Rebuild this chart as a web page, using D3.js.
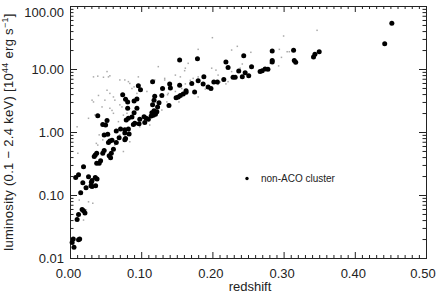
<!DOCTYPE html>
<html>
<head>
<meta charset="utf-8">
<script src="https://cdn.jsdelivr.net/npm/d3@7"></script>
<style>
  body { margin: 0; background: #fff; }
  text { font-family: "Liberation Sans", Arial, sans-serif; fill: #222; }
</style>
</head>
<body>
<svg id="chart" width="439" height="294"></svg>
<script>

// non-ACO clusters (black dots): redshift, luminosity [1e44 erg/s]
var clusterZ = [
    0.452, 0.442, 0.350, 0.344, 0.342, 0.314, 0.315, 0.317, 0.284, 0.284, 0.284,
    0.244, 0.219, 0.222, 0.255, 0.237, 0.246, 0.242, 0.251, 0.229, 0.232, 0.216,
    0.267, 0.270, 0.274, 0.278, 0.188, 0.187, 0.180, 0.194, 0.198, 0.202, 0.207,
    0.154, 0.179, 0.171, 0.154, 0.140, 0.141, 0.163, 0.163, 0.175, 0.159, 0.155,
    0.152, 0.149, 0.139, 0.116, 0.096, 0.099, 0.130, 0.074, 0.129, 0.078, 0.081,
    0.090, 0.094, 0.119, 0.118, 0.125, 0.123, 0.116, 0.081, 0.094, 0.090, 0.118,
    0.122, 0.115, 0.120, 0.117, 0.104, 0.107, 0.110, 0.114, 0.098, 0.087, 0.082,
    0.079, 0.091, 0.089, 0.097, 0.105, 0.052, 0.046, 0.050, 0.039, 0.082, 0.077,
    0.071, 0.065, 0.083, 0.077, 0.053, 0.048, 0.078, 0.077, 0.069, 0.059, 0.056,
    0.054, 0.061, 0.048, 0.046, 0.055, 0.057, 0.065, 0.0375, 0.0355, 0.034, 0.058,
    0.043, 0.041, 0.0375, 0.019, 0.012, 0.008, 0.026, 0.0355, 0.038, 0.031, 0.030,
    0.018, 0.0225, 0.0295, 0.031, 0.036, 0.015, 0.017, 0.019, 0.021, 0.012, 0.010,
    0.0046, 0.0136, 0.012, 0.003, 0.0056
];
var clusterL = [
    53, 25.2, 18.8, 17.1, 15.5, 19.8, 13.7, 12.8, 19.3, 13.6, 12.9,
    16.3, 12.9, 10.6, 10.9, 9.3, 8.7, 7.5, 7.8, 7.4, 7.4, 6.8,
    9.1, 9.4, 10.0, 9.9, 7.5, 5.8, 6.5, 5.2, 4.9, 6.2, 6.2,
    13.9, 14.6, 5.9, 5.5, 5.8, 5.0, 4.5, 4.27, 4.3, 4.0, 3.8,
    3.6, 3.5, 2.64, 6.3, 5.4, 4.7, 4.9, 3.9, 3.8, 3.3, 3.0,
    3.1, 3.35, 3.7, 3.2, 2.9, 2.5, 2.7, 2.38, 2.38, 2.02, 2.18,
    2.1, 2.02, 1.91, 1.85, 1.75, 1.65, 1.59, 1.79, 1.59, 1.73, 1.65,
    1.55, 1.38, 1.32, 1.35, 1.41, 1.52, 1.32, 1.29, 1.81, 1.12, 1.09,
    1.12, 1.04, 0.93, 0.96, 0.92, 0.90, 0.79, 0.75, 0.81, 0.74, 0.72,
    0.68, 0.53, 0.51, 0.46, 0.42, 0.39, 0.68, 0.46, 0.43, 0.41, 0.46,
    0.35, 0.32, 0.32, 0.28, 0.21, 0.19, 0.195, 0.19, 0.18, 0.17, 0.16,
    0.157, 0.13, 0.14, 0.137, 0.14, 0.109, 0.059, 0.056, 0.052, 0.049, 0.041,
    0.020, 0.020, 0.0195, 0.0177, 0.0148
];

// background sample (faint grey dots)
var sampleZ = [
    0.200, 0.180, 0.227, 0.235, 0.166, 0.162, 0.161, 0.148, 0.155, 0.133, 0.199,
    0.205, 0.208, 0.180, 0.173, 0.169, 0.162, 0.219, 0.222, 0.227, 0.157, 0.148,
    0.180, 0.153, 0.137, 0.300, 0.347, 0.254, 0.294, 0.305, 0.308, 0.297, 0.281,
    0.293, 0.242, 0.239, 0.215, 0.208, 0.211, 0.190, 0.192, 0.010, 0.026, 0.031,
    0.039, 0.052, 0.054, 0.049, 0.045, 0.056, 0.063, 0.059, 0.061, 0.073, 0.077,
    0.096, 0.090, 0.080, 0.119, 0.124, 0.133, 0.138, 0.033, 0.035, 0.056, 0.052,
    0.082, 0.087, 0.070, 0.056, 0.075, 0.068, 0.098, 0.112, 0.129, 0.136, 0.108,
    0.094, 0.070, 0.063, 0.084, 0.075, 0.013, 0.037, 0.039, 0.041, 0.046, 0.027,
    0.011, 0.060, 0.032, 0.023, 0.026, 0.019, 0.040, 0.045, 0.047, 0.040, 0.033,
    0.061, 0.070, 0.084
];
var sampleL = [
    31.4, 20.5, 20.0, 22.9, 12.3, 10.3, 9.4, 8.0, 7.5, 7.1, 10.3,
    9.6, 8.0, 7.5, 7.1, 6.6, 5.8, 5.8, 6.3, 9.1, 4.9, 4.4,
    3.6, 3.0, 3.9, 33.4, 41.1, 18.4, 20.5, 18.8, 18.8, 15.3, 12.3,
    11.2, 12.0, 10.3, 6.5, 5.7, 6.2, 4.8, 5.1, 1.21, 1.65, 3.2,
    7.7, 9.1, 7.5, 3.2, 2.5, 4.1, 3.2, 2.2, 1.98, 2.5, 6.7,
    7.5, 5.2, 1.98, 6.7, 10.9, 6.7, 4.1, 7.5, 1.86, 7.8, 4.6,
    6.3, 4.9, 2.7, 2.38, 1.85, 1.46, 1.21, 1.29, 2.23, 3.0, 4.4,
    4.1, 0.90, 0.62, 0.70, 0.49, 0.083, 0.66, 0.62, 0.90, 0.75, 0.135,
    0.46, 0.52, 0.074, 0.058, 0.078, 0.040, 0.32, 0.49, 7.4, 3.8, 3.0,
    3.6, 6.7, 5.9
];

var xTicks = [0, 0.1, 0.2, 0.3, 0.4, 0.5];
var xTickLabels = ['0.00', '0.10', '0.20', '0.30', '0.40', '0.50'];
var yTicks = [0.01, 0.1, 1, 10, 100];
var yTickLabels = ['0.01', '0.10', '1.00', '10.00', '100.00'];

var plotLeft = 70, plotRight = 426, plotTop = 6, plotBottom = 258;

var svg = d3.select('#chart');

var x = d3.scaleLinear().domain([0, 0.5]).range([plotLeft, plotRight]);
var y = d3.scaleLog().domain([0.01, 100]).range([plotBottom, plotTop]);

// minor ticks
var xMinor = d3.range(0, 0.5001, 0.01).filter(function (v) {
    return Math.abs(v * 10 - Math.round(v * 10)) > 1e-6;
});
var yMinor = [];
yTicks.slice(0, 4).forEach(function (d) {
    for (var k = 2; k <= 9; k++) yMinor.push(d * k);
});

function drawAxis(axis, tx, ty) {
    var g = svg.append('g')
        .attr('transform', 'translate(' + tx + ',' + ty + ')')
        .call(axis);
    g.select('.domain').remove();
    g.selectAll('line').attr('stroke', '#222').attr('stroke-width', 1);
    g.selectAll('text').remove();
}

// inward ticks on all four sides
drawAxis(d3.axisBottom(x).tickValues(xTicks).tickSize(-6), 0, plotBottom);
drawAxis(d3.axisBottom(x).tickValues(xMinor).tickSize(-3), 0, plotBottom);
drawAxis(d3.axisTop(x).tickValues(xTicks).tickSize(-6), 0, plotTop);
drawAxis(d3.axisTop(x).tickValues(xMinor).tickSize(-3), 0, plotTop);
drawAxis(d3.axisLeft(y).tickValues(yTicks).tickSize(-7), plotLeft, 0);
drawAxis(d3.axisLeft(y).tickValues(yMinor).tickSize(-3.5), plotLeft, 0);
drawAxis(d3.axisRight(y).tickValues(yTicks).tickSize(-7), plotRight, 0);
drawAxis(d3.axisRight(y).tickValues(yMinor).tickSize(-3.5), plotRight, 0);

svg.append('rect')
    .attr('x', plotLeft + 0.5)
    .attr('y', plotTop + 0.5)
    .attr('width', plotRight - plotLeft)
    .attr('height', plotBottom - plotTop)
    .attr('fill', 'none')
    .attr('stroke', '#222')
    .attr('stroke-width', 1);

// tick labels
svg.selectAll('.xlab')
    .data(xTicks)
    .enter().append('text')
    .attr('class', 'xlab')
    .attr('x', function (d) { return Math.min(x(d) - 1.5, 423); })
    .attr('y', 278)
    .attr('text-anchor', 'middle')
    .style('font-size', '13px')
    .text(function (d, i) { return xTickLabels[i]; });

svg.selectAll('.ylab')
    .data(yTicks)
    .enter().append('text')
    .attr('class', 'ylab')
    .attr('x', 64)
    .attr('y', function (d) { return Math.max(y(d), 12) + 5; })
    .attr('text-anchor', 'end')
    .style('font-size', '13px')
    .text(function (d, i) { return yTickLabels[i]; });

svg.append('text')
    .attr('x', 250)
    .attr('y', 291)
    .attr('text-anchor', 'middle')
    .style('font-size', '13px')
    .text('redshift');

var ylabel = svg.append('text')
    .attr('transform', 'translate(13,' + ((plotTop + plotBottom) / 2) + ') rotate(-90)')
    .attr('text-anchor', 'middle')
    .style('font-size', '13px')
    .style('letter-spacing', '0.3px');
ylabel.append('tspan').text('luminosity (0.1 \u2212 2.4 keV) [10');
ylabel.append('tspan').attr('dy', -5).style('font-size', '9px').text('44');
ylabel.append('tspan').attr('dy', 5).text(' erg s');
ylabel.append('tspan').attr('dy', -5).style('font-size', '9px').text('\u22121');
ylabel.append('tspan').attr('dy', 5).text(']');

// background sample
svg.append('g').selectAll('rect')
    .data(sampleZ)
    .enter().append('rect')
    .attr('x', function (d) { return x(d) - 0.75; })
    .attr('y', function (d, i) { return y(sampleL[i]) - 0.75; })
    .attr('width', 1.5)
    .attr('height', 1.5)
    .attr('fill', '#aaa');

// clusters
svg.append('g').selectAll('circle')
    .data(clusterZ)
    .enter().append('circle')
    .attr('cx', function (d) { return x(d); })
    .attr('cy', function (d, i) { return y(clusterL[i]); })
    .attr('r', 2.5)
    .attr('fill', '#000');

// legend
svg.append('circle')
    .attr('cx', 247)
    .attr('cy', 178.5)
    .attr('r', 1.7)
    .attr('fill', '#000');
svg.append('text')
    .attr('x', 261)
    .attr('y', 182)
    .style('font-size', '10px')
    .text('non-ACO cluster');

</script>
</body>
</html>
